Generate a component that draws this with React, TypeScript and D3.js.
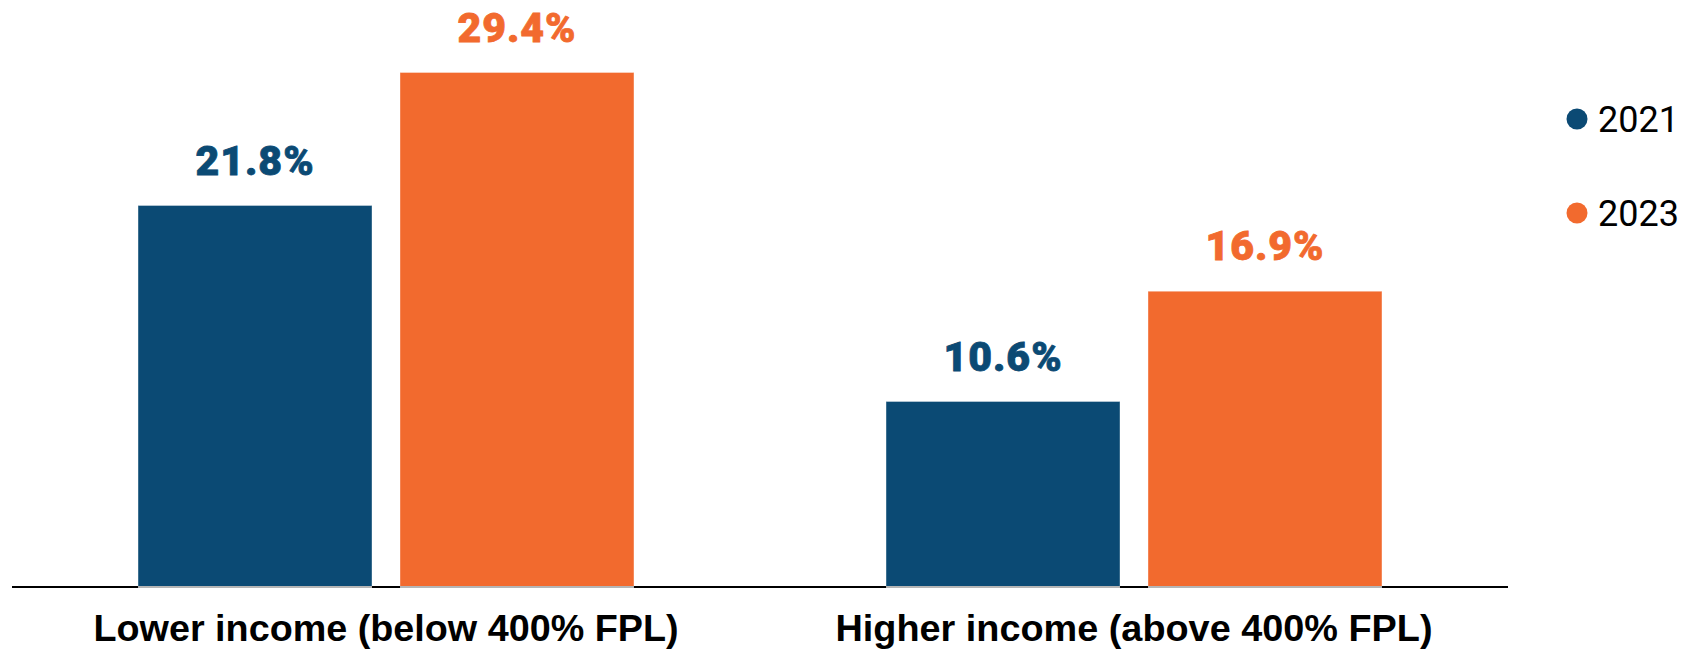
import React from "react";
import * as d3 from "d3";

const categories = ["Lower income (below 400% FPL)", "Higher income (above 400% FPL)"];
const years = ["2021", "2023"];
const values2021 = [21.8, 10.6];
const values2023 = [29.4, 16.9];
const colors = ["#0b4a74", "#f26a2e"];

const W = 1688;
const H = 649;

export default function App() {
  const x0 = d3.scaleBand<string>().domain(categories).range([12, 1508]).paddingInner(0.337).paddingOuter(0.1685);
  const x1 = d3.scaleBand<string>().domain(years).range([0, x0.bandwidth()]).paddingInner(0.107).paddingOuter(0);
  const y = d3.scaleLinear().domain([0, 30]).range([587, 62]);
  const series = [values2021, values2023];

  return (
    <svg width={W} height={H} style={{ position: "absolute", left: 0, top: 0, background: "#fff" }}>
      {categories.map((c, ci) => (
        <g key={c} transform={`translate(${x0(c)},0)`}>
          {years.map((yr, yi) => {
            const v = series[yi][ci];
            const bx = x1(yr)!;
            return (
              <g key={yr}>
                <rect x={bx} y={y(v)} width={x1.bandwidth()} height={y(0) - y(v)} fill={colors[yi]} stroke="#ffffff" strokeOpacity={0.35} strokeWidth={1} />
                <text
                  x={bx + x1.bandwidth() / 2}
                  y={y(v) - 31}
                  textAnchor="middle"
                  fill={colors[yi]}
                  stroke={colors[yi]}
                  strokeWidth={0.8}
                  style={{ fontFamily: "Roboto", fontWeight: 900, fontSize: 41, letterSpacing: 1 }}
                >
                  {v.toFixed(1)}%
                </text>
              </g>
            );
          })}
          <text
            x={x0.bandwidth() / 2}
            y={641}
            textAnchor="middle"
            fill="#000"
            textLength={ci === 0 ? 585 : 597}
            lengthAdjust="spacingAndGlyphs"
            style={{ fontFamily: "Liberation Sans", fontWeight: 700, fontSize: 37 }}
          >
            {c}
          </text>
        </g>
      ))}
      <line x1={12} x2={1508} y1={587} y2={587} stroke="#000" strokeWidth={2} />
      {categories.map((c) =>
        years.map((yr, yi) => (
          <line key={c + yr} x1={x0(c)! + x1(yr)!} x2={x0(c)! + x1(yr)! + x1.bandwidth()} y1={587} y2={587} stroke="#b5b5b5" strokeWidth={2} />
        ))
      )}
      {years.map((yr, i) => (
        <g key={yr} transform={`translate(1577,${119 + i * 94})`}>
          <circle r={10.5} fill={colors[i]} />
          <text x={21} y={0} dy="0.36em" fill="#000" style={{ fontFamily: "Roboto", fontWeight: 400, fontSize: 36 }}>
            {yr}
          </text>
        </g>
      ))}
    </svg>
  );
}
